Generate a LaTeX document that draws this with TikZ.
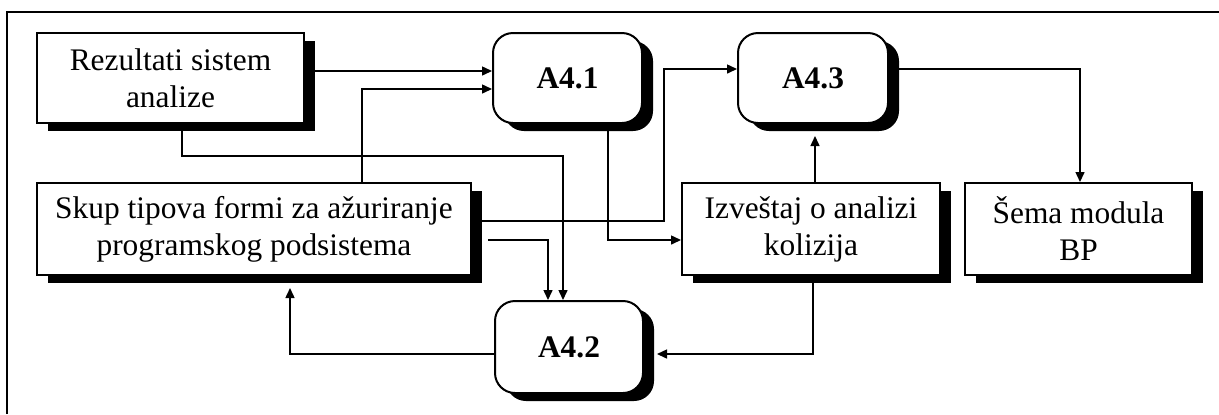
\documentclass[tikz,border=0pt]{standalone}
\usepackage{fontspec}
\setmainfont{Liberation Serif}
\usetikzlibrary{arrows.meta,shadows}

\begin{document}
\begin{tikzpicture}[x=0.5pt,y=-0.5pt,
    box/.style={draw, line width=1pt, fill=white, align=center, inner sep=0pt,
      font=\fontsize{15.7}{18.5}\selectfont,
      general shadow={fill=black, shadow xshift=5.5pt, shadow yshift=-4pt}},
    proc/.style={box, rounded corners=10pt, font=\fontsize{15.7}{18.5}\selectfont\bfseries},
    arr/.style={line width=0.75pt, -{Triangle[length=5pt,width=4.5pt]}}]
    \useasboundingbox (0,0) rectangle (1219,414);
    \draw [line width=1.2pt] (7,414) -- (7,12) -- (1219,12);

    \node [box, minimum width=133.5pt, minimum height=45pt] (rez) at (170.5,78) {Rezultati sistem\\analize};
    \node [proc, minimum width=74.5pt, minimum height=45pt] (a41) at (567.5,78) {A4.1};
    \node [proc, minimum width=75pt, minimum height=45pt] (a43) at (813,78) {A4.3};
    \node [box, minimum width=217pt, minimum height=46pt] (skup) at (254,229) {Skup tipova formi za ažuriranje\\programskog podsistema};
    \node [box, minimum width=129pt, minimum height=46pt] (izv) at (811,229) {Izveštaj o analizi\\kolizija};
    \node [box, minimum width=113.5pt, minimum height=46pt] (sema) at (1078.5,229) {Šema modula\\BP};
    \node [proc, minimum width=74pt, minimum height=46pt] (a42) at (569,347) {A4.2};

    \draw [arr] (rez.east |- 0,71) -- (a41.west |- 0,71);
    \draw [arr] (skup.north -| 362,0) |- (a41.west |- 0,89);
    \draw [arr] (rez.south -| 182,0) |- (563,156) -- (a42.north -| 563,0);
    \draw [arr] (a41.south -| 608,0) |- (izv.west |- 0,240);
    \draw [arr] (skup.east |- 0,221) -| (664,69) -- (a43.west |- 0,69);
    \draw [arr, shorten <=8pt] (skup.east |- 0,240) -| (a42.north -| 548,0);
    \draw [arr, shorten >=6pt] (izv.north -| 815,0) -- (a43.south -| 815,0);
    \draw [arr] (a43.east |- 0,69) -| (sema.north -| 1080,0);
    \draw [arr, shorten >=6.5pt] (izv.south -| 813,0) |- (a42.east |- 0,354);
    \draw [arr, shorten >=6pt] (a42.west |- 0,354) -| (skup.south -| 290,0);
  \end{tikzpicture}
\end{document}
